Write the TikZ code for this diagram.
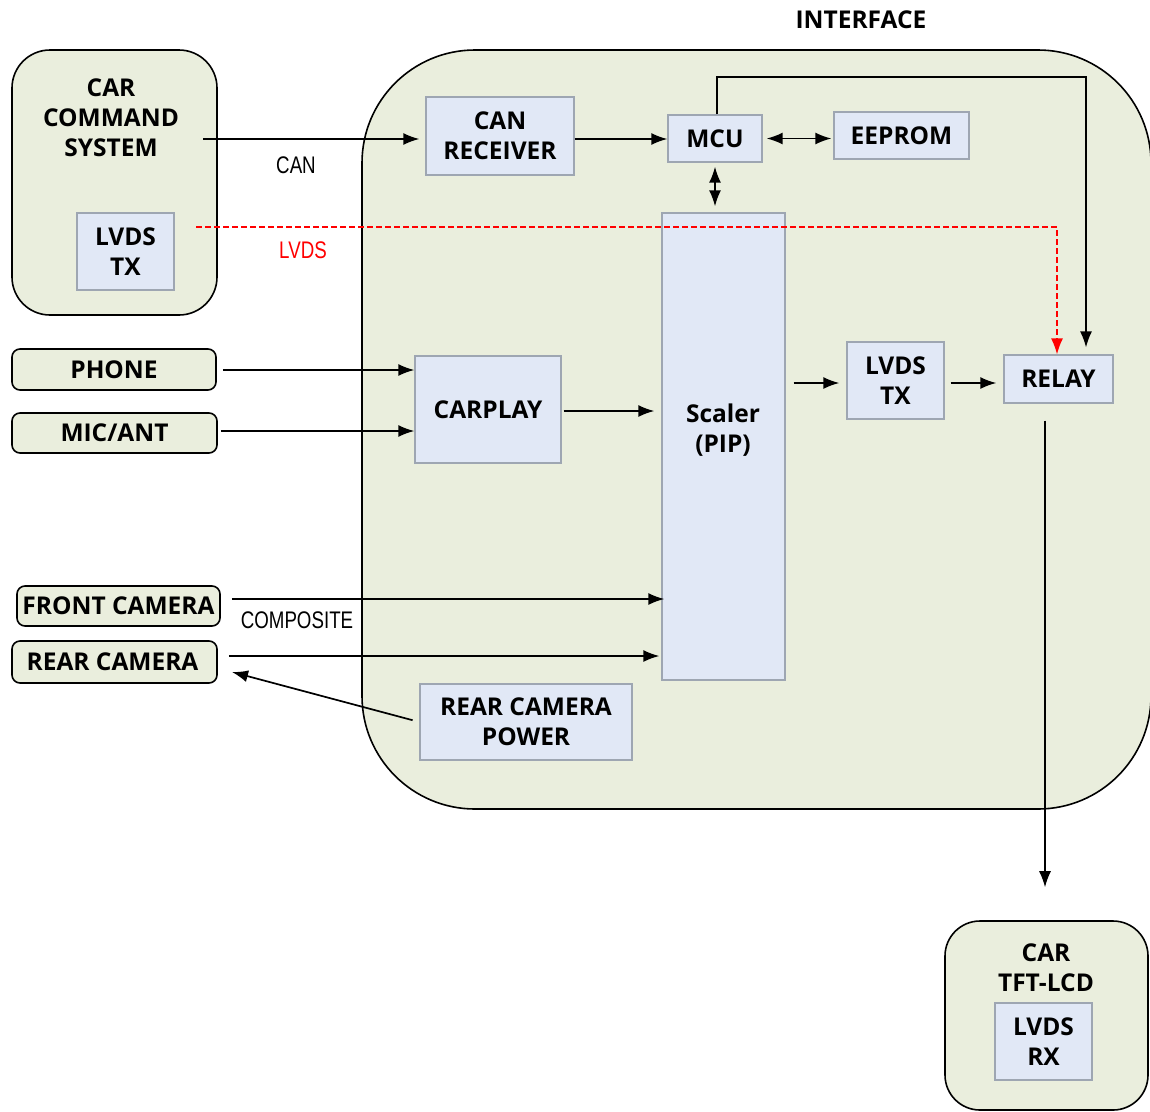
\documentclass[tikz,border=0pt]{standalone}
\usepackage{fontspec}
\setmainfont{Open Sans}
\newfontfamily\narrowfont[FakeStretch=0.78]{Liberation Sans}
\usetikzlibrary{arrows.meta}
\definecolor{panelgreen}{RGB}{234,238,221}
\definecolor{blkblue}{RGB}{225,232,246}
\definecolor{blkedge}{RGB}{158,166,178}
\definecolor{sigred}{RGB}{255,0,0}
\tikzset{
	panel/.style={draw, line width=1.6pt, fill=panelgreen, inner sep=0pt},
	blk/.style={draw=blkedge, line width=1.3pt, fill=blkblue, align=center, inner sep=0pt,
		font=\fontsize{24.5}{30}\selectfont\bfseries},
	txt/.style={align=center, inner sep=0pt, font=\fontsize{24.5}{30}\selectfont\bfseries},
	sig/.style={inner sep=0pt, font=\narrowfont\fontsize{24}{26}\selectfont},
	arr/.style={line width=1.7pt, arrows={-Latex[length=16pt,width=12pt]}},
	dbl/.style={line width=1.7pt, arrows={Latex[length=16pt,width=12pt]-Latex[length=16pt,width=12pt]}}
}

\begin{document}
\begin{tikzpicture}[x=1pt, y=-1pt]
	\useasboundingbox (0,0) rectangle (1150,1111);
	\fill [white] (0,0) rectangle (1150,1111);
	\draw [line width=1.6pt, fill=panelgreen, rounded corners=113pt] (362,50) rectangle (1151,809);
	\node [txt] (iftitle) at (861,20) {INTERFACE};

	\node [panel, rounded corners=38pt, minimum width=205pt, minimum height=265pt] (ccs) at (114.5,182.5) {};
	\node [txt] (ccstext) at (111,118) {CAR\\COMMAND\\SYSTEM};
	\node [blk, minimum width=97pt, minimum height=77pt] (ccstx) at (125.5,251.5) {LVDS\\TX};

	\node [panel, rounded corners=8pt, minimum width=204pt, minimum height=41pt] (phone) at (114,369.5) {};
	\node [txt] at (phone) {PHONE};
	\node [panel, rounded corners=8pt, minimum width=205pt, minimum height=40pt] (mic) at (114.5,433) {};
	\node [txt] at (mic) {MIC/ANT};
	\node [panel, rounded corners=8pt, minimum width=203pt, minimum height=40pt] (front) at (118.5,606) {};
	\node [txt] at (front) {FRONT CAMERA};
	\node [panel, rounded corners=8pt, minimum width=205pt, minimum height=42pt] (rear) at (114.5,662) {};
	\node [txt] at ([xshift=-2pt]rear.center) {REAR CAMERA};

	\node [blk, minimum width=148pt, minimum height=78pt] (canrx) at (500,136) {CAN\\RECEIVER};
	\node [blk, minimum width=94pt, minimum height=47pt] (mcu) at (715,138.5) {MCU};
	\node [blk, minimum width=135pt, minimum height=47pt] (eeprom) at (901.5,135.5) {EEPROM};
	\node [blk, minimum width=123pt, minimum height=467pt] (scaler) at (723.5,446.5) {};
	\node [txt] (scalertext) at (723,430) {Scaler\\(PIP)};
	\node [blk, minimum width=146pt, minimum height=107pt] (carplay) at (488,409.5) {CARPLAY};
	\node [blk, minimum width=97pt, minimum height=77pt] (lvdstx) at (895.5,380.5) {LVDS\\TX};
	\node [blk, minimum width=109pt, minimum height=48pt] (relay) at (1058.5,379) {RELAY};
	\node [blk, minimum width=212pt, minimum height=76pt] (rcpower) at (526,722) {REAR CAMERA\\POWER};

	\node [panel, rounded corners=35pt, minimum width=203pt, minimum height=189pt] (tft) at (1046.5,1015.5) {};
	\node [txt] (tfttext) at (1046,968) {CAR\\TFT-LCD};
	\node [blk, minimum width=97pt, minimum height=77pt] (lvdsrx) at (1043.5,1041.5) {LVDS\\RX};

	\coordinate (canstart) at (203,139);
	\coordinate (lvdsstart) at (196,227);
	\coordinate (rearend) at (232,672);

	\draw [arr, shorten >=6pt] (canstart) -- (canstart -| canrx.west);
	\node [sig] (canlbl) at (296,165) {CAN};
	\draw [sigred, line width=1.3pt, dashed, dash pattern=on 6pt off 3pt, arrows={-Latex[length=16pt,width=12pt]}]
		(lvdsstart) -| ([xshift=-1.5pt]relay.north);
	\node [sig, text=sigred] (lvdslbl) at (303,250) {LVDS};

	\draw [arr] ([yshift=-3pt]canrx.east) -- ([yshift=-3pt]canrx.east -| mcu.west);
	\draw [dbl, shorten <=4pt, shorten >=2pt] (mcu.east) -- (mcu.east -| eeprom.west);
	\draw [dbl, shorten <=4pt, shorten >=6pt] (mcu.south) -- (mcu.south |- scaler.north);
	\draw [line width=1.3pt, arrows={-Latex[length=16pt,width=12pt]}, shorten >=7pt]
		([xshift=2pt]mcu.north) |- (1086,77) -- ([xshift=27.5pt]relay.north);

	\draw [arr, shorten <=6pt] ([yshift=-0.5pt]phone.east) -- ([yshift=-0.5pt]phone.east -| carplay.west);
	\draw [arr, shorten <=3pt] ([yshift=2pt]mic.east) -- ([yshift=2pt]mic.east -| carplay.west);
	\draw [arr, shorten <=2pt, shorten >=7pt] ([yshift=-1.5pt]carplay.east) -- ([yshift=-1.5pt]carplay.east -| scaler.west);
	\draw [arr, shorten <=8pt, shorten >=7pt] ([yshift=-2.5pt]scaler.east |- lvdstx) -- ([yshift=-2.5pt]lvdstx.west);
	\draw [arr, shorten <=6pt, shorten >=7pt] ([yshift=-2.5pt]lvdstx.east) -- ([yshift=-4pt]relay.west);
	\draw [line width=1.3pt, arrows={-Latex[length=16pt,width=12pt]}, shorten <=17pt, shorten >=33pt]
		([xshift=-1.5pt]tft.north |- relay.south) -- ([xshift=-1.5pt]tft.north);

	\draw [arr, shorten <=11pt, shorten >=-3pt] ([yshift=7pt]front.east) -- ([yshift=7pt]front.east -| scaler.west);
	\node [sig] (complbl) at (297,620) {COMPOSITE};
	\draw [arr, shorten <=11pt, shorten >=2pt] ([yshift=6pt]rear.east) -- ([yshift=6pt]rear.east -| scaler.west);
	\draw [arr, shorten <=7pt] (rcpower.west) -- (rearend);
\end{tikzpicture}
\end{document}
